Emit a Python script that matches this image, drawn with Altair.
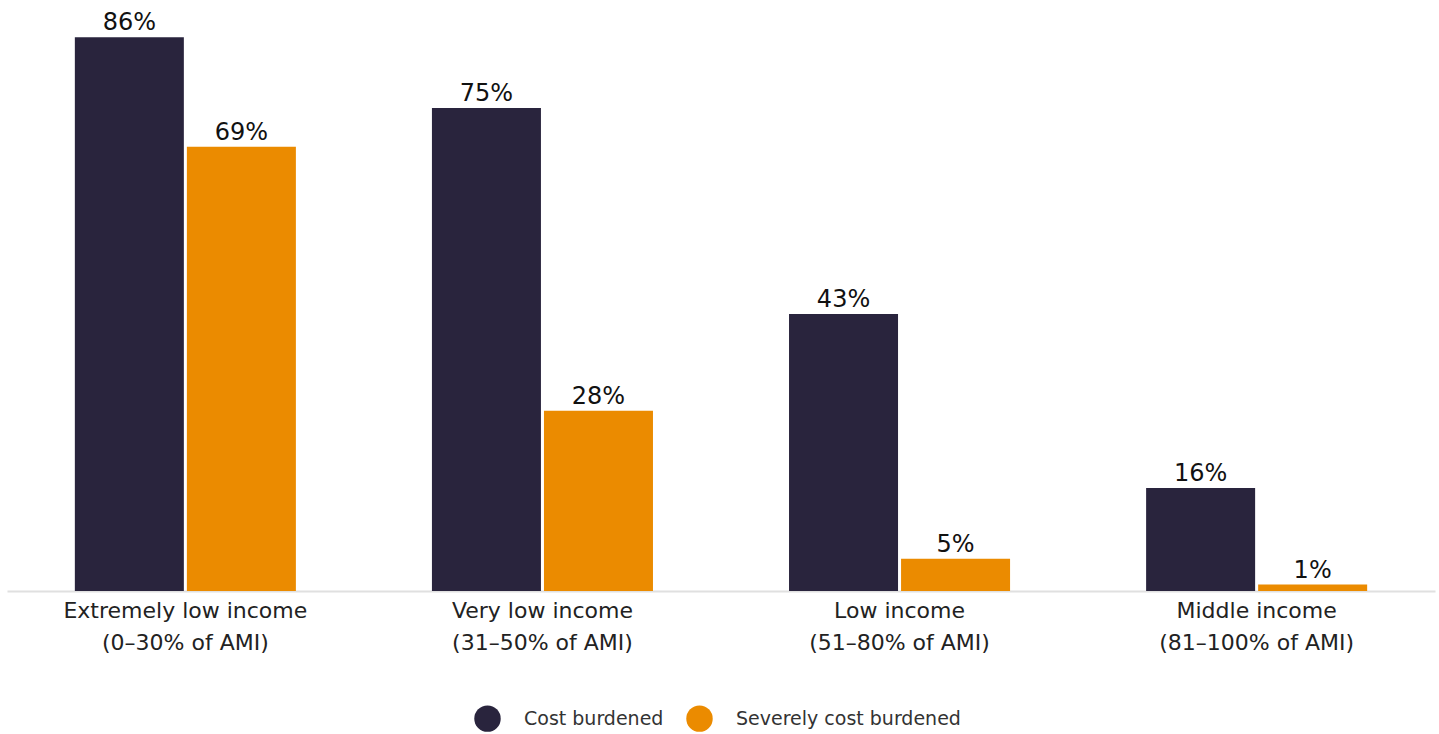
import altair as alt
import pandas as pd

line1 = ["Extremely low income", "Very low income", "Low income", "Middle income"]
line2 = ["(0–30% of AMI)", "(31–50% of AMI)", "(51–80% of AMI)", "(81–100% of AMI)"]
series = ["Cost burdened", "Severely cost burdened"]
cost_burdened = [86, 75, 43, 16]
severely_burdened = [69, 28, 5, 1]
colors = ["#29243d", "#eb8b00"]

cats = [a + "|" + b for a, b in zip(line1, line2)]
rows = []
for i, c in enumerate(cats):
    rows.append({"cat": c, "series": series[0], "value": cost_burdened[i]})
    rows.append({"cat": c, "series": series[1], "value": severely_burdened[i]})
df = pd.DataFrame(rows)

FONT = "DejaVu Sans"

x = alt.X("cat:N", sort=cats, title=None,
          scale=alt.Scale(paddingInner=0.381, paddingOuter=0.19),
          axis=alt.Axis(labelExpr="split(datum.label, '|')", labelAngle=0,
                        ticks=False, domainColor="#e0e0e0", domainWidth=2,
                        labelFontSize=22, labelColor="#222222", labelFont=FONT,
                        labelLineHeight=32, labelPadding=9, labelBaseline="top",
                        labelLimit=0))
xo = alt.XOffset("series:N", sort=series, scale=alt.Scale(paddingInner=0.027))
y = alt.Y("value:Q", scale=alt.Scale(domain=[0, 91], nice=False), axis=None)

bars = alt.Chart(df).mark_bar().encode(
    x=x, xOffset=xo, y=y,
    color=alt.Color("series:N", sort=series,
                    scale=alt.Scale(domain=series, range=colors),
                    legend=alt.Legend(title=None, orient="none", direction="horizontal",
                                      legendX=467, legendY=700,
                                      symbolType="circle", symbolSize=700,
                                      symbolStrokeWidth=0, labelFontSize=19,
                                      labelFont=FONT, labelColor="#333333",
                                      labelOffset=23, columnPadding=22,
                                      labelLimit=0))
)

labels = alt.Chart(df).mark_text(baseline="bottom", dy=-2, fontSize=24,
                                 font=FONT, color="#111111").encode(
    x=x, xOffset=xo, y=y,
    text=alt.Text("label:N")
).transform_calculate(label="datum.value + '%'")

chart = (bars + labels).properties(
    width=1428, height=586,
    autosize=alt.AutoSizeParams(type="none"),
    padding={"left": 7, "top": 5, "right": 4, "bottom": 143},
).configure_view(stroke=None)

chart.save("out.html", embed_options={"renderer": "svg", "actions": False})
